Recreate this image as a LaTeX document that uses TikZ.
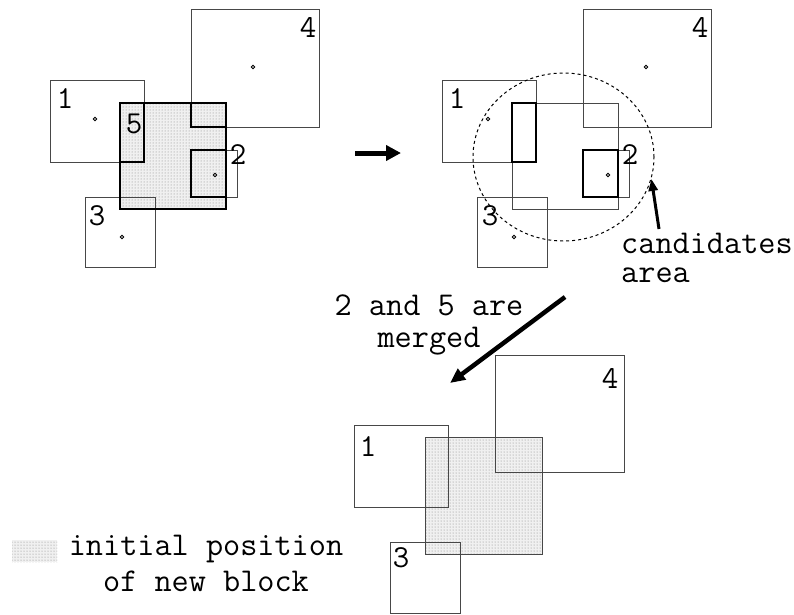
\documentclass[tikz,border=0pt]{standalone}
\usetikzlibrary{arrows.meta,patterns,shapes.geometric}
\begin{document}
\begin{tikzpicture}[x=1pt,y=-1pt,
  box/.style={draw=black!72,line width=1pt},
  edge/.style={draw=black,line width=2pt},
  newblock/.style={fill=black!6,postaction={pattern=dots,pattern color=black!50}},
  lbl/.style={inner sep=0pt,font=\ttfamily\fontsize{32}{33}\selectfont},
  txt/.style={inner sep=0pt,font=\ttfamily\fontsize{33.3}{#1}\selectfont},
  ctr/.style={draw=black,line width=0.9pt,fill=white},
  bigarrow/.style={-{Triangle[length=15pt,width=15pt]},line width=5pt},
  midarrow/.style={-{Triangle[length=15pt,width=13pt]},line width=4.5pt},
  smallarrow/.style={-{Triangle[length=12pt,width=9pt]},line width=3pt},
  area/.style={ellipse,draw=black,line width=1pt,dash pattern=on 3pt off 3pt,
    minimum width=181pt,minimum height=168pt,inner sep=0pt}]
\useasboundingbox (0,0) rectangle (794,614);

% ---- left: before placement ----
\fill[newblock] (120,103) rectangle (226,209);
\draw[box] (191,9) rectangle (319,127);
\draw[box] (50,80) rectangle (144,162);
\draw[box] (191,150) rectangle (237,197);
\draw[box] (85,197) rectangle (155,267);
\draw[edge] (120,103) rectangle (226,209);
\draw[edge] (120,103) rectangle (144,162);
\draw[edge] (191,150) rectangle (226,197);
\draw[edge,line width=1.5pt] (191,103) -- (191,127) -- (226,127);
\draw[ctr] (253,67) circle (1.8);
\draw[ctr] (95,119) circle (1.8);
\draw[ctr] (215,175) circle (1.8);
\draw[ctr] (122,237) circle (1.8);
\node[lbl] (a1) at (65,99) {1};
\node[lbl] (a2) at (238,155) {2};
\node[lbl] (a3) at (97,216) {3};
\node[lbl] (a4) at (308,27) {4};
\node[lbl] (a5) at (134,124) {5};

\coordinate (s1) at (355,153);
\coordinate (e1) at (401,153);
\draw[bigarrow] (s1) -- (e1);

% ---- right: candidates area ----
\draw[box] (583,9) rectangle (711,127);
\draw[box] (442,80) rectangle (536,162);
\draw[box] (512,103) rectangle (618,209);
\draw[box] (583,150) rectangle (629,197);
\draw[box] (477,197) rectangle (547,267);
\draw[edge] (512,103) rectangle (536,162);
\draw[edge] (583,150) rectangle (618,197);
\draw[ctr] (646,67) circle (1.8);
\draw[ctr] (488,119) circle (1.8);
\draw[ctr] (608,175) circle (1.8);
\draw[ctr] (514,237) circle (1.8);
\node[lbl] (b1) at (457,99) {1};
\node[lbl] (b2) at (630,155) {2};
\node[lbl] (b3) at (490,216) {3};
\node[lbl] (b4) at (700,27) {4};
\node[area] (circ) at (563.5,157) {};
\node[txt=29, align=left, anchor=base west] (cand) at (621,282) {candidates\\area};
\coordinate (ct) at (659,229);
\draw[smallarrow] (ct) -- (circ.-14.4);

% ---- merge step ----
\coordinate (s2) at (565,297);
\coordinate (e2) at (450,383);
\draw[midarrow] (s2) -- (e2);
\node[txt=32, align=center, anchor=base] (merge) at (429,347) {2 and 5 are\\merged};

% ---- bottom: after merging ----
\fill[newblock] (425,437) rectangle (542,554);
\draw[box] (425,437) rectangle (542,554);
\draw[box] (495,355) rectangle (624,472);
\draw[box] (354,425) rectangle (448,507);
\draw[box] (390,542) rectangle (460,613);
\node[lbl] (c1) at (368,447) {1};
\node[lbl] (c3) at (401,558) {3};
\node[lbl] (c4) at (610,378) {4};

% ---- legend ----
\fill[newblock] (12,540) rectangle (57,562);
\node[txt=36, align=center, anchor=base] (legend) at (206,591) {initial position\\of new block};
\end{tikzpicture}
\end{document}
